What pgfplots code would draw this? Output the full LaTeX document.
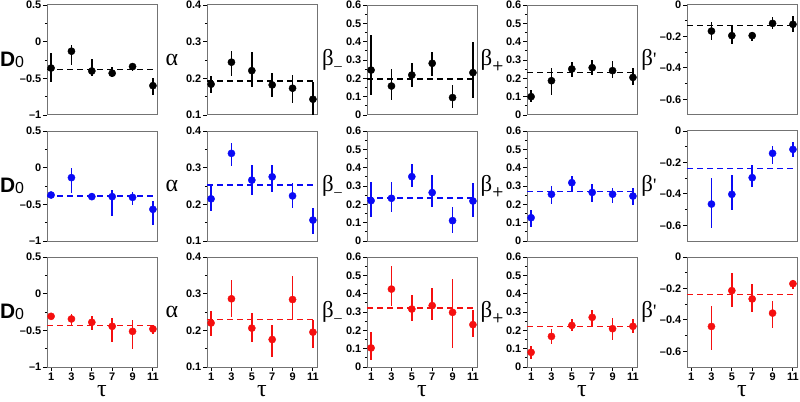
\documentclass[border=0pt]{standalone}
\usepackage{pgfplots}
\pgfplotsset{compat=1.18}
\usepackage{fontspec}
\setmainfont{Liberation Sans}
\newfontfamily\grk{Liberation Serif}
\definecolor{cb}{RGB}{0,0,0}
\definecolor{cblue}{RGB}{10,10,245}
\definecolor{cred}{RGB}{245,15,15}
\newcommand{\ticfont}{\fontsize{11}{11}\selectfont\bfseries}
\pgfplotsset{
  panel/.style={scale only axis, width=110bp, height=110bp, anchor=south west,
    xmin=0.6, xmax=11.4, clip=true,
    axis line style={black!55, line width=1bp},
    tick style={black, line width=0.9bp},
    ytick pos=left, xtick pos=bottom, tick align=outside,
    major tick length=4bp, minor tick length=2.2bp, minor y tick num=1,
    yticklabel style={font=\ticfont, inner sep=1.5bp},
    xticklabel style={font=\ticfont, inner sep=1.5bp},
    y label style={at={(axis description cs:0,0.5)}, rotate=-90, anchor=center, xshift=-35bp},
    x label style={font=\grk\fontsize{24}{24}\selectfont, yshift=0bp},
    xtick=\empty},
  bot/.style={xtick={1,3,5,7,9,11}, xticklabels={1,3,5,7,9,11}, xlabel={τ}},
  pD/.style={ymin=-1, ymax=0.5, ytick={-1,-0.5,0,0.5}, yticklabels={\textendash1,\textendash0.5,0,0.5},
    ylabel={{\fontsize{21}{21}\selectfont\bfseries D}{\fontsize{16}{16}\selectfont\raisebox{-0.2ex}{0}}}},
  pA/.style={ymin=0.1, ymax=0.4, ytick={0.1,0.2,0.3,0.4}, yticklabels={0.1,0.2,0.3,0.4},
    ylabel={{\grk\fontsize{24}{24}\selectfont α}}},
  pBm/.style={ymin=0, ymax=0.6, ytick={0,0.1,...,0.6}, yticklabels={0,0.1,0.2,0.3,0.4,0.5,0.6},
    ylabel={{\grk\fontsize{23}{23}\selectfont β\kern0.5bp\raisebox{-0.55ex}{\fontsize{15}{15}\selectfont\textendash}}}},
  pBp/.style={ymin=0, ymax=0.6, ytick={0,0.1,...,0.6}, yticklabels={0,0.1,0.2,0.3,0.4,0.5,0.6},
    ylabel={{\grk\fontsize{23}{23}\selectfont β\raisebox{-0.35ex}{\fontsize{13}{13}\selectfont\bfseries\sffamily+}}}},
  pBq/.style={ymin=-0.7, ymax=0, ytick={-0.6,-0.4,-0.2,0}, yticklabels={\textendash0.6,\textendash0.4,\textendash0.2,0},
    y label style={xshift=-3bp},
    ylabel={{\grk\fontsize{23}{23}\selectfont β\fontsize{19}{19}\selectfont\textquotesingle}}},
}
\newcommand{\pnl}[6]{%
\begin{axis}[panel, at={(#1,#2)}, #3]
\addplot[#4, dash pattern=on 6bp off 4bp, line width=1.5bp] coordinates {(0.6,#6) (11.4,#6)};
\addplot[#4, only marks, mark=*, mark size=3.6bp,
  error bars/.cd, y dir=both, y explicit, error mark=none,
  error bar style={line width=1.5bp, #4}] coordinates {#5};
\end{axis}}
\begin{document}
\begin{tikzpicture}[x=1bp,y=1bp]
\useasboundingbox (0,0) rectangle (800,401);
% ---------- row 1 (black)
\pnl{47bp}{286bp}{pD}{cb}{(1,-0.36) += (0,0.20) -= (0,0.185) (3,-0.13) += (0,0.085) -= (0,0.19) (5,-0.40) += (0,0.16) -= (0,0.07) (7,-0.43) += (0,0.09) -= (0,0.05) (9,-0.34) += (0,0.04) -= (0,0.06) (11,-0.60) += (0,0.11) -= (0,0.13)}{-0.38}
\pnl{207bp}{286bp}{pA}{cb}{(1,0.184) += (0,0.022) -= (0,0.023) (3,0.244) += (0,0.031) -= (0,0.038) (5,0.221) += (0,0.05) -= (0,0.046) (7,0.182) += (0,0.033) -= (0,0.034) (9,0.173) += (0,0.036) -= (0,0.041) (11,0.143) += (0,0.048) -= (0,0.053)}{0.193}
\pnl{367bp}{286bp}{pBm}{cb}{(1,0.245) += (0,0.191) -= (0,0.136) (3,0.158) += (0,0.091) -= (0,0.076) (5,0.218) += (0,0.067) -= (0,0.063) (7,0.282) += (0,0.063) -= (0,0.069) (9,0.095) += (0,0.069) -= (0,0.059) (11,0.231) += (0,0.169) -= (0,0.14)}{0.196}
\pnl{527bp}{286bp}{pBp}{cb}{(1,0.10) += (0,0.036) -= (0,0.027) (3,0.187) += (0,0.068) -= (0,0.078) (5,0.251) += (0,0.04) -= (0,0.046) (7,0.258) += (0,0.042) -= (0,0.04) (9,0.242) += (0,0.053) -= (0,0.042) (11,0.205) += (0,0.05) -= (0,0.041)}{0.231}
\pnl{687bp}{286bp}{pBq}{cb}{(3,-0.166) += (0,0.06) -= (0,0.057) (5,-0.195) += (0,0.068) -= (0,0.056) (7,-0.195) += (0,0.025) -= (0,0.032) (9,-0.117) += (0,0.038) -= (0,0.038) (11,-0.123) += (0,0.053) -= (0,0.047)}{-0.132}
% ---------- row 2 (blue)
\pnl{47bp}{160bp}{pD}{cblue}{(1,-0.373) += (0,0.033) -= (0,0.022) (3,-0.136) += (0,0.136) -= (0,0.204) (5,-0.395) += (0,0.045) -= (0,0.045) (7,-0.395) += (0,0.09) -= (0,0.26) (9,-0.405) += (0,0.078) -= (0,0.105) (11,-0.568) += (0,0.118) -= (0,0.214)}{-0.386}
\pnl{207bp}{160bp}{pA}{cblue}{(1,0.215) += (0,0.035) -= (0,0.032) (3,0.339) += (0,0.029) -= (0,0.034) (5,0.266) += (0,0.041) -= (0,0.041) (7,0.275) += (0,0.032) -= (0,0.04) (9,0.223) += (0,0.036) -= (0,0.032) (11,0.157) += (0,0.032) -= (0,0.039)}{0.253}
\pnl{367bp}{160bp}{pBm}{cblue}{(1,0.22) += (0,0.10) -= (0,0.091) (3,0.233) += (0,0.091) -= (0,0.073) (5,0.351) += (0,0.067) -= (0,0.058) (7,0.264) += (0,0.096) -= (0,0.08) (9,0.111) += (0,0.073) -= (0,0.069) (11,0.218) += (0,0.097) -= (0,0.085)}{0.235}
\pnl{527bp}{160bp}{pBp}{cblue}{(1,0.127) += (0,0.042) -= (0,0.049) (3,0.255) += (0,0.045) -= (0,0.053) (5,0.318) += (0,0.037) -= (0,0.043) (7,0.265) += (0,0.044) -= (0,0.05) (9,0.255) += (0,0.036) -= (0,0.046) (11,0.245) += (0,0.042) -= (0,0.049)}{0.269}
\pnl{687bp}{160bp}{pBq}{cblue}{(3,-0.465) += (0,0.164) -= (0,0.155) (5,-0.403) += (0,0.123) -= (0,0.10) (7,-0.297) += (0,0.08) -= (0,0.058) (9,-0.142) += (0,0.049) -= (0,0.068) (11,-0.117) += (0,0.049) -= (0,0.046)}{-0.238}
% ---------- row 3 (red)
\pnl{47bp}{34bp}{pD,bot}{cred}{(1,-0.309) += (0,0.023) -= (0,0.036) (3,-0.345) += (0,0.072) -= (0,0.10) (5,-0.39) += (0,0.09) -= (0,0.10) (7,-0.445) += (0,0.113) -= (0,0.219) (9,-0.514) += (0,0.159) -= (0,0.241) (11,-0.482) += (0,0.059) -= (0,0.063)}{-0.436}
\pnl{207bp}{34bp}{pA,bot}{cred}{(1,0.22) += (0,0.034) -= (0,0.035) (3,0.286) += (0,0.05) -= (0,0.05) (5,0.206) += (0,0.041) -= (0,0.039) (7,0.175) += (0,0.04) -= (0,0.048) (9,0.284) += (0,0.065) -= (0,0.055) (11,0.195) += (0,0.034) -= (0,0.043)}{0.229}
\pnl{367bp}{34bp}{pBm,bot}{cred}{(1,0.104) += (0,0.085) -= (0,0.064) (3,0.425) += (0,0.128) -= (0,0.094) (5,0.316) += (0,0.079) -= (0,0.067) (7,0.335) += (0,0.096) -= (0,0.08) (9,0.298) += (0,0.182) -= (0,0.194) (11,0.231) += (0,0.079) -= (0,0.067)}{0.322}
\pnl{527bp}{34bp}{pBp,bot}{cred}{(1,0.08) += (0,0.033) -= (0,0.036) (3,0.167) += (0,0.04) -= (0,0.04) (5,0.227) += (0,0.035) -= (0,0.032) (7,0.271) += (0,0.039) -= (0,0.049) (9,0.209) += (0,0.058) -= (0,0.06) (11,0.222) += (0,0.04) -= (0,0.037)}{0.222}
\pnl{687bp}{34bp}{pBq,bot}{cred}{(3,-0.442) += (0,0.132) -= (0,0.148) (5,-0.214) += (0,0.112) -= (0,0.104) (7,-0.267) += (0,0.097) -= (0,0.085) (9,-0.357) += (0,0.075) -= (0,0.095) (11,-0.170) += (0,0.026) -= (0,0.034)}{-0.24}
\end{tikzpicture}
\end{document}
